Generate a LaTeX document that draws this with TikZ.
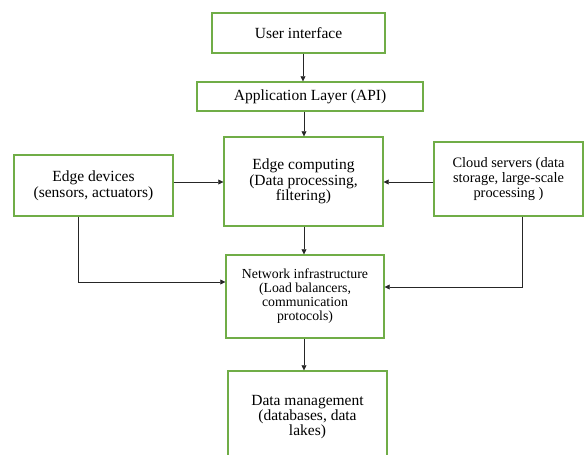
\documentclass[tikz,border=0pt]{standalone}
\usepackage{fontspec}
\setmainfont{Liberation Serif}
\newfontfamily\tnr{Liberation Serif}
\usetikzlibrary{arrows.meta}
\definecolor{boxgreen}{RGB}{112,173,71}
\tikzset{
  box/.style={draw=boxgreen, line width=1.4pt, fill=white, align=center, inner sep=0pt, minimum width=#1, font=\tnr},
  arr/.style={draw=black!85, line width=0.7pt, -{Triangle[length=5pt,width=5pt]}},
}
\newcommand{\fs}[2]{\fontsize{#1}{#2}\tnr}
\begin{document}
\begin{tikzpicture}[x=1pt,y=-1pt]
\useasboundingbox (0,0) rectangle (584,455);
\node[box=173pt, minimum height=40pt, font=\fs{15.5}{16}] (ui) at (298.5,33) {User interface};
\node[box=226pt, minimum height=29pt, font=\fs{15.5}{16}] (api) at (310,96.5) {Application Layer (API)};
\node[box=159pt, minimum height=61pt, font=\fs{15.5}{16}] (ed) at (93.5,185.5) {Edge devices\\(sensors, actuators)};
\node[box=159pt, minimum height=89pt, font=\fs{15.5}{15.5}] (ec) at (303.5,181.5) {Edge computing\\(Data processing,\\filtering)};
\node[box=149pt, minimum height=74pt, font=\fs{14.4}{14.6}] (cs) at (508.5,179) {Cloud servers (data\\storage, large-scale\\processing )};
\node[box=158pt, minimum height=83pt, font=\fs{13.8}{14}] (ni) at (305,296.5) {Network infrastructure\\(Load balancers,\\communication\\protocols)};
\node[box=159pt, minimum height=92pt, font=\fs{15.5}{15}] (dm) at (307.5,417) {Data management\\(databases, data\\lakes)};
\coordinate (xa) at (303,0);
\coordinate (xb) at (304,0);
\coordinate (xl) at (78,0);
\coordinate (xr) at (522,0);
\coordinate (ya) at (0,182);
\coordinate (yl) at (0,282);
\coordinate (yr) at (0,287);
\draw[arr] (ui.south -| xa) -- (api.north -| xa);
\draw[arr] (api.south -| xb) -- (ec.north -| xb);
\draw[arr] (ed.east |- ya) -- (ec.west |- ya);
\draw[arr] (cs.west |- ya) -- (ec.east |- ya);
\draw[arr] (ec.south -| xb) -- (ni.north -| xb);
\draw[arr] (ed.south -| xl) |- (ni.west |- yl);
\draw[arr] (cs.south -| xr) |- (ni.east |- yr);
\draw[arr] (ni.south -| xb) -- (dm.north -| xb);
\end{tikzpicture}
\end{document}
